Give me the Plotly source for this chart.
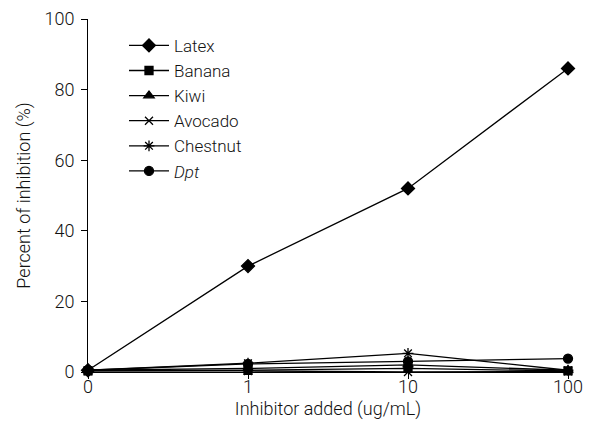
import plotly.graph_objects as go

categories = ["0", "1", "10", "100"]
latex = [0.5, 30, 52, 86]
banana = [0.3, 0.5, 1.0, 0.3]
kiwi = [0.5, 1.0, 2.0, 0.5]
avocado = [0.3, 0.3, 0.0, 0.2]
chestnut = [0.5, 2.5, 5.3, 0.5]
dpt = [0.5, 2.3, 3.0, 3.8]
y_ticks = [0, 20, 40, 60, 80, 100]

xpos = list(range(len(categories)))

series = [
    ("Latex", latex, "diamond", 10),
    ("Banana", banana, "square", 8),
    ("Kiwi", kiwi, "triangle-up", 9),
    ("Avocado", avocado, "x-thin", 8),
    ("Chestnut", chestnut, "asterisk", 9),
    ("<i>Dpt</i>", dpt, "circle", 9),
]

fig = go.Figure()
for name, vals, sym, sz in series:
    fig.add_trace(go.Scatter(
        x=xpos, y=vals, name=name, mode="lines+markers",
        line=dict(color="black", width=1.3),
        marker=dict(symbol=sym, size=sz, color="black",
                    line=dict(color="black", width=1.3)),
        cliponaxis=False,
    ))

font = dict(family="Roboto, Liberation Sans, sans-serif", size=17, color="#111", weight=300)

fig.update_layout(
    width=614, height=440,
    margin=dict(l=80, r=54, t=11, b=76),
    paper_bgcolor="white", plot_bgcolor="white",
    font=font,
    showlegend=True,
    legend=dict(x=0.075, y=0.975, xanchor="left", yanchor="top",
                bgcolor="rgba(0,0,0,0)", font=dict(size=17), tracegroupgap=0,
                itemwidth=40),
    xaxis=dict(range=[0, 3], tickmode="array", tickvals=xpos, ticktext=categories,
               automargin=False,
               showgrid=False, zeroline=False, showline=True, linecolor="black", linewidth=1,
               ticks="outside", ticklen=6, tickcolor="black", ticklabelstandoff=-8,
               tickfont=dict(size=18),
               title=dict(text="Inhibitor added (ug/mL)", standoff=6, font=dict(size=18))),
    yaxis=dict(range=[0, 100], tickvals=y_ticks, automargin=False,
               showgrid=False, zeroline=False, showline=True, linecolor="black", linewidth=1,
               ticks="outside", ticklen=6, tickcolor="black", ticklabelstandoff=3,
               tickfont=dict(size=18),
               title=dict(text="Percent of inhibition (%)", standoff=9, font=dict(size=18))),
)

fig.write_html("out.html")
